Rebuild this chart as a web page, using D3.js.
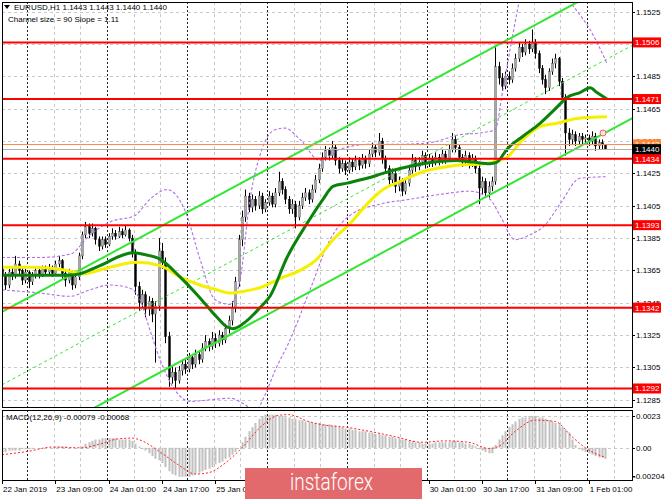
<!DOCTYPE html>
<html><head><meta charset="utf-8">
<script src="https://cdn.jsdelivr.net/npm/d3@7"></script>
<style>
body{margin:0;background:#fff}
svg{display:block}
text{font-family:"Liberation Sans",Arial,sans-serif;font-size:8px;fill:#000}
</style>
</head><body>
<svg id="c" width="665" height="499"></svg>
<script>
// ---------- DATA ----------
const opens = [
1.1366,1.1362,1.1356,1.1364,1.1362,1.1369,1.1365,1.1359,1.1364,1.1358,
1.1362,1.1365,1.1362,1.1366,1.1364,1.1367,1.1363,1.1369,1.1371,1.1363,
1.1359,1.1364,1.1356,1.1361,1.1374,1.1387,1.1392,1.1388,1.1391,1.1384,
1.1380,1.1384,1.1381,1.1386,1.1388,1.1386,1.1389,1.1387,1.1390,1.1385,
1.1376,1.1355,1.1345,1.1350,1.1341,1.1346,1.1338,1.1343,1.1377,1.1370,
1.1324,1.1299,1.1302,1.1297,1.1303,1.1307,1.1304,1.1311,1.1307,1.1313,
1.1310,1.1317,1.1321,1.1318,1.1323,1.1320,1.1325,1.1322,1.1329,1.1334,
1.1342,1.1358,1.1384,1.1398,1.1411,1.1404,1.1409,1.1405,1.1411,1.1403,
1.1407,1.1411,1.1406,1.1413,1.1420,1.1415,1.1409,1.1403,1.1406,1.1398,
1.1405,1.1410,1.1413,1.1409,1.1415,1.1421,1.1428,1.1435,1.1439,1.1436,
1.1441,1.1433,1.1428,1.1431,1.1427,1.1432,1.1429,1.1433,1.1430,1.1434,
1.1431,1.1437,1.1441,1.1438,1.1445,1.1434,1.1428,1.1421,1.1425,1.1417,
1.1420,1.1414,1.1419,1.1427,1.1433,1.1429,1.1432,1.1436,1.1431,1.1434,
1.1432,1.1435,1.1433,1.1437,1.1434,1.1440,1.1446,1.1441,1.1435,1.1432,
1.1436,1.1431,1.1434,1.1428,1.1416,1.1420,1.1413,1.1417,1.1420,1.1491,
1.1484,1.1479,1.1485,1.1483,1.1490,1.1496,1.1503,1.1500,1.1505,1.1502,
1.1506,1.1499,1.1490,1.1483,1.1478,1.1488,1.1493,1.1496,1.1482,1.1472,
1.1450,1.1446,1.1449,1.1445,1.1448,1.1446,1.1447,1.1445,1.1448,1.1442,
1.1444,1.1443];
const highs = [
1.1368,1.1364,1.1366,1.1367,1.1374,1.1371,1.1367,1.1366,1.1365,1.1364,
1.1367,1.1367,1.1368,1.1368,1.1369,1.1368,1.1371,1.1374,1.1372,1.1365,
1.1366,1.1365,1.1363,1.1376,1.1389,1.1395,1.1394,1.1394,1.1392,1.1386,
1.1386,1.1386,1.1388,1.1391,1.1390,1.1392,1.1391,1.1393,1.1391,1.1387,
1.1378,1.1358,1.1353,1.1352,1.1349,1.1348,1.1346,1.1385,1.1382,1.1373,
1.1327,1.1306,1.1305,1.1306,1.1310,1.1310,1.1314,1.1313,1.1316,1.1315,
1.1320,1.1325,1.1323,1.1327,1.1326,1.1328,1.1327,1.1332,1.1337,1.1346,
1.1361,1.1387,1.1402,1.1415,1.1413,1.1412,1.1411,1.1414,1.1413,1.1409,
1.1414,1.1413,1.1416,1.1426,1.1422,1.1417,1.1411,1.1409,1.1408,1.1408,
1.1413,1.1416,1.1415,1.1418,1.1424,1.1431,1.1438,1.1442,1.1441,1.1445,
1.1443,1.1435,1.1434,1.1433,1.1435,1.1434,1.1436,1.1435,1.1437,1.1436,
1.1440,1.1444,1.1443,1.1450,1.1447,1.1436,1.1430,1.1428,1.1427,1.1423,
1.1422,1.1422,1.1430,1.1437,1.1435,1.1435,1.1439,1.1438,1.1437,1.1436,
1.1438,1.1437,1.1440,1.1439,1.1443,1.1450,1.1448,1.1443,1.1437,1.1439,
1.1438,1.1437,1.1436,1.1430,1.1423,1.1422,1.1420,1.1423,1.1503,1.1494,
1.1487,1.1488,1.1488,1.1493,1.1499,1.1506,1.1505,1.1508,1.1507,1.1514,
1.1508,1.1501,1.1492,1.1486,1.1490,1.1496,1.1499,1.1497,1.1484,1.1474,
1.1453,1.1452,1.1451,1.1450,1.1450,1.1449,1.1449,1.1451,1.1450,1.1446,
1.1446,1.1443];
const lows = [
1.1358,1.1353,1.1354,1.1359,1.1360,1.1362,1.1356,1.1357,1.1354,1.1356,
1.1360,1.1360,1.1361,1.1362,1.1362,1.1361,1.1362,1.1367,1.1360,1.1355,
1.1357,1.1353,1.1354,1.1359,1.1372,1.1385,1.1385,1.1386,1.1381,1.1377,
1.1378,1.1379,1.1380,1.1384,1.1384,1.1385,1.1385,1.1386,1.1383,1.1373,
1.1350,1.1340,1.1342,1.1336,1.1337,1.1333,1.1308,1.1340,1.1366,1.1320,
1.1293,1.1295,1.1292,1.1295,1.1300,1.1301,1.1302,1.1304,1.1305,1.1307,
1.1308,1.1315,1.1315,1.1316,1.1317,1.1318,1.1319,1.1320,1.1326,1.1331,
1.1339,1.1355,1.1380,1.1395,1.1401,1.1401,1.1402,1.1403,1.1400,1.1401,
1.1405,1.1404,1.1404,1.1411,1.1412,1.1406,1.1400,1.1400,1.1391,1.1396,
1.1403,1.1408,1.1406,1.1407,1.1413,1.1419,1.1426,1.1433,1.1433,1.1434,
1.1430,1.1425,1.1426,1.1424,1.1425,1.1426,1.1427,1.1427,1.1428,1.1428,
1.1429,1.1435,1.1435,1.1436,1.1431,1.1425,1.1418,1.1419,1.1413,1.1414,
1.1411,1.1412,1.1417,1.1425,1.1426,1.1427,1.1430,1.1428,1.1429,1.1429,
1.1430,1.1430,1.1431,1.1431,1.1432,1.1438,1.1438,1.1432,1.1429,1.1430,
1.1428,1.1429,1.1425,1.1406,1.1412,1.1410,1.1410,1.1414,1.1418,1.1480,
1.1476,1.1477,1.1480,1.1481,1.1488,1.1494,1.1497,1.1498,1.1499,1.1500,
1.1496,1.1487,1.1480,1.1474,1.1476,1.1486,1.1490,1.1479,1.1469,1.1436,
1.1442,1.1443,1.1442,1.1443,1.1443,1.1443,1.1442,1.1443,1.1439,1.1440,
1.1440,1.1440];
const closes = [
1.1362,1.1356,1.1364,1.1362,1.1369,1.1365,1.1359,1.1364,1.1358,1.1362,
1.1365,1.1362,1.1366,1.1364,1.1367,1.1363,1.1369,1.1371,1.1363,1.1359,
1.1364,1.1356,1.1361,1.1374,1.1387,1.1392,1.1388,1.1391,1.1384,1.1380,
1.1384,1.1381,1.1386,1.1388,1.1386,1.1389,1.1387,1.1390,1.1385,1.1376,
1.1355,1.1345,1.1350,1.1341,1.1346,1.1338,1.1343,1.1377,1.1370,1.1324,
1.1299,1.1302,1.1297,1.1303,1.1307,1.1304,1.1311,1.1307,1.1313,1.1310,
1.1317,1.1321,1.1318,1.1323,1.1320,1.1325,1.1322,1.1329,1.1334,1.1342,
1.1358,1.1384,1.1398,1.1411,1.1404,1.1409,1.1405,1.1411,1.1403,1.1407,
1.1411,1.1406,1.1413,1.1420,1.1415,1.1409,1.1403,1.1406,1.1398,1.1405,
1.1410,1.1413,1.1409,1.1415,1.1421,1.1428,1.1435,1.1439,1.1436,1.1441,
1.1433,1.1428,1.1431,1.1427,1.1432,1.1429,1.1433,1.1430,1.1434,1.1431,
1.1437,1.1441,1.1438,1.1445,1.1434,1.1428,1.1421,1.1425,1.1417,1.1420,
1.1414,1.1419,1.1427,1.1433,1.1429,1.1432,1.1436,1.1431,1.1434,1.1432,
1.1435,1.1433,1.1437,1.1434,1.1440,1.1446,1.1441,1.1435,1.1432,1.1436,
1.1431,1.1434,1.1428,1.1416,1.1420,1.1413,1.1417,1.1420,1.1491,1.1484,
1.1479,1.1485,1.1483,1.1490,1.1496,1.1503,1.1500,1.1505,1.1502,1.1506,
1.1499,1.1490,1.1483,1.1478,1.1488,1.1493,1.1496,1.1482,1.1472,1.1450,
1.1446,1.1449,1.1445,1.1448,1.1446,1.1447,1.1445,1.1448,1.1442,1.1444,
1.1443,1.1440];

// moving averages: [bar, price]
const maGreen = [[0,1.1362],[9,1.1362],[19.5,1.1362],[23.4,1.1363],[29.4,1.1368],[39.3,1.1376],[42.3,1.1375],[47.4,1.1372],
 [53.4,1.1361],[59.4,1.1348],[64.5,1.1336],[67.5,1.1330],[69.3,1.1329],[73.5,1.1334],[77.4,1.1342],[80.4,1.1349],
 [85.5,1.1373],[91.5,1.1394],[96.3,1.1409],[99.3,1.1417],[103.5,1.1419],[109.5,1.1422],[114.3,1.1425],[119.4,1.1428],
 [126.3,1.1431],[136.5,1.1433],[141.3,1.1432],[146.4,1.1431],[148.5,1.1432],[151.5,1.1440],[156.3,1.1448],[161.4,1.1456],
 [166.5,1.1466],[169.5,1.1472],[173.4,1.1475],[176.4,1.1478],[178.5,1.1475],[181.5,1.1471]];
const maYellow = [[0,1.1367],[9,1.1367],[19.5,1.1365],[24.3,1.1363],[32.4,1.1367],[40.5,1.1370],[47.4,1.1368],[53.4,1.1361],
 [59.4,1.1356],[64.5,1.1353],[68.4,1.1351],[72.3,1.1352],[78.3,1.1355],[83.4,1.1360],[89.4,1.1365],[94.5,1.1372],
 [99.3,1.1384],[104.4,1.1394],[109.5,1.1406],[114.3,1.1415],[119.4,1.1420],[126.3,1.1426],[136.5,1.1430],[144.3,1.1431],
 [147.3,1.1432],[151.5,1.1435],[156.3,1.1446],[161.4,1.1454],[166.5,1.1456],[172.5,1.1459],[181.5,1.1460]];
const bandUpper = [[0,1.1373],[11.4,1.1373],[20.4,1.1375],[26.4,1.1387],[32.4,1.1395],[39.9,1.1399],[44.4,1.1409],[49.5,1.1415],
 [54.9,1.1402],[59.4,1.1372],[63.9,1.1347],[68.4,1.1344],[71.4,1.1359],[74.4,1.1409],[78,1.1440],[81.9,1.1452],[84.9,1.1453],
 [89.4,1.1446],[95.4,1.1433],[101.4,1.1440],[110.4,1.1443],[119.4,1.1443],[128.4,1.1444],[137.4,1.1449],[143.4,1.1450],
 [147.9,1.1452],[150.3,1.1477],[153,1.1508],[156,1.1536],[161.4,1.1545],[167.4,1.1538],[171.9,1.1527],[176.4,1.1514],[181.5,1.1493]];
const bandLower = [[0,1.1353],[11.4,1.1351],[20.4,1.1349],[26.4,1.1353],[32.4,1.1356],[38.4,1.1354],[41.4,1.1347],[44.4,1.1328],
 [47.4,1.1310],[51.9,1.1291],[56.4,1.1284],[62.4,1.1285],[68.4,1.1286],[72.9,1.1282],[75.9,1.1278],[78.9,1.1288],[81.9,1.1303],
 [86.4,1.1322],[92.4,1.1353],[98.4,1.1384],[104.4,1.1399],[113.4,1.1406],[122.4,1.1409],[131.4,1.1412],[140.4,1.1414],
 [146.4,1.1409],[149.4,1.1399],[153.9,1.1384],[158.4,1.1387],[162.9,1.1393],[167.4,1.1406],[173.4,1.1422],[181.5,1.1423]];

// MACD (x 1e-4) per bar and signal line [bar, value x 1e-4]
const macdHist = [
-3,-3,-2,-2,-2,-2,-1,-1,-1,-1,
0,0,0,0,0,0,1,1,1,1,
0,0,0,0,1,3,4,5,6,6,
7,7,7,7,7,6,6,6,6,5,
3,1,-1,-2,-4,-6,-8,-9,-11,-14,
-17,-19,-20,-21,-21,-21,-21,-20,-19,-18,
-17,-16,-15,-14,-12,-11,-10,-8,-7,-5,
-3,0,4,8,12,15,18,21,23,24,
24,24,24,23,23,22,22,21,21,20,
20,19,19,18,18,18,17,17,17,16,
16,15,15,14,14,13,13,12,12,12,
11,11,10,10,9,9,8,8,7,7,
6,6,5,5,4,4,3,3,3,3,
4,4,4,4,4,5,5,4,4,3,
3,2,1,-1,-2,-3,-4,-4,2,6,
9,12,15,17,19,21,22,22,23,23,
23,22,22,21,20,19,18,17,15,13,
11,6,2,-1,-2,-3,-4,-5,-6,-7,
-7,-8];
const macdSignal = [[0,-5],[8,-2.5],[15,0.5],[24,0],[29,2.5],[35,6.5],[39,7],[42,5],[48,-4],[53,-12.5],[58,-19],[62,-18],
 [67,-11],[72,0],[78,16],[83,23.5],[86,24],[92,19],[98,16],[101,15.5],[110,12],[118,8],[126,4],[133,5],[140,4],
 [146,-0.5],[149,1],[154,12],[160,20],[166,19],[171,8],[175,0],[181,-7]];

// visible price-axis labels (1.1505 is hidden under the 1.1506 box in the reference)
const priceTicks = [1.1525,1.1505,1.1485,1.1465,1.1445,1.1425,1.1405,1.1385,1.1365,1.1345,1.1325,1.1305,1.1285];
const priceTickLabels = ["1.1525","","1.1485","1.1465","1.1445","1.1425","1.1405","1.1385","1.1365","1.1345","1.1325","1.1305","1.1285"];
const levels = [1.1506,1.1471,1.1434,1.1393,1.1342,1.1292];
const askPrice = 1.1443, bidPrice = 1.1440;
const timeBars = [0,16,32,48,64,80,96,112,128,144,160,176];
// labels under the instaforex badge are not visible in the reference
const timeLabels = ["22 Jan 2019","23 Jan 09:00","24 Jan 01:00","24 Jan 17:00","25 Jan 0","","","","30 Jan 01:00","30 Jan 17:00","31 Jan 09:00","1 Feb 01:00"];
const channel = {startBar:0, upperStart:1.13393, slopePips:1.11, sizePips:90};
const macdTicks = [0.0023, 0.0, -0.00204];
const macdTickLabels = ["0.0023","0.00","-0.00204"];

// ---------- LAYOUT ----------
const svg = d3.select("#c");
const L=2, R=632, T=2, B=407, mT=410, mB=480;
const nVis = 189.3;
const x = d3.scaleLinear().domain([0,nVis]).range([2,633]);
const y = d3.scaleLinear().domain([1.1525,1.1285]).range([11.7,399.8]);
const ym = d3.scaleLinear().domain([0.0023,-0.00204]).range([416,476]);

const defs = svg.append("defs");
defs.append("clipPath").attr("id","cm").append("rect").attr("x",L).attr("y",T).attr("width",R-L).attr("height",B-T);
defs.append("clipPath").attr("id","cd").append("rect").attr("x",L).attr("y",mT).attr("width",R-L).attr("height",mB-mT);

const gm = svg.append("g").attr("clip-path","url(#cm)");
const gd = svg.append("g").attr("clip-path","url(#cd)");

// grid horizontal
gm.selectAll(".hg").data(priceTicks).join("line")
  .attr("x1",L).attr("x2",R).attr("y1",d=>Math.round(y(d))+0.5).attr("y2",d=>Math.round(y(d))+0.5)
  .attr("stroke","#c8c8c8").attr("stroke-dasharray","3,3");
gd.selectAll(".hg").data([0.0023,0]).join("line")
  .attr("x1",L).attr("x2",R).attr("y1",d=>Math.round(ym(d))+0.5).attr("y2",d=>Math.round(ym(d))+0.5)
  .attr("stroke","#c8c8c8").attr("stroke-dasharray","3,3");
// grid vertical
const vgrid = d3.range(0,24).map(k=>({b:7.5+8*k, dark:k%3===0}));
[gm,gd].forEach((g,gi)=>{
  g.selectAll(".vg").data(vgrid).join("line")
    .attr("x1",d=>Math.round(x(d.b))+0.5).attr("x2",d=>Math.round(x(d.b))+0.5)
    .attr("y1",gi?mT:T).attr("y2",gi?mB:B)
    .attr("stroke",d=>d.dark?"#202020":"#c8c8c8")
    .attr("stroke-dasharray",d=>d.dark?"2,2":"3,3");
});

// candles
const bars = closes.map((c,i)=>({i,o:opens[i],h:highs[i],l:lows[i],c}));
gm.selectAll(".wick").data(bars).join("line")
  .attr("x1",d=>Math.round(x(d.i))+0.5).attr("x2",d=>Math.round(x(d.i))+0.5)
  .attr("y1",d=>y(d.h)).attr("y2",d=>y(d.l)).attr("stroke","#000").attr("stroke-width",1);
gm.selectAll(".body").data(bars).join("rect")
  .attr("x",d=>Math.round(x(d.i))-0.5).attr("width",2)
  .attr("y",d=>Math.min(y(d.o),y(d.c)))
  .attr("height",d=>Math.max(1,Math.abs(y(d.o)-y(d.c))))
  .attr("fill",d=>d.c>=d.o?"#a8a8a8":"#000")
  .attr("stroke",d=>d.c>=d.o?"#555":"#000").attr("stroke-width",0.4);

// bands
const lineP = d3.line().x(d=>x(d[0])).y(d=>y(d[1])).curve(d3.curveMonotoneX);
[bandUpper,bandLower].forEach(bd=>{
  gm.append("path").attr("d",lineP(bd)).attr("fill","none").attr("stroke","#b06ee6")
    .attr("stroke-width",1.1).attr("stroke-dasharray","3,2");
});

// regression channel
const chv = (b,off)=>channel.upperStart + (b-channel.startBar)*channel.slopePips*0.0001 - off*0.0001;
[[0,"none",2],[channel.sizePips,"none",2],[channel.sizePips/2,"3,3",1]].forEach(([off,dash,w])=>{
  gm.append("line").attr("x1",x(channel.startBar)).attr("x2",x(nVis))
    .attr("y1",y(chv(channel.startBar,off))).attr("y2",y(chv(nVis,off)))
    .attr("stroke","#33e633").attr("stroke-width",w).attr("stroke-dasharray",dash);
});

// moving averages
gm.append("path").attr("d",lineP(maYellow)).attr("fill","none").attr("stroke","#f5f000").attr("stroke-width",3);
gm.append("path").attr("d",lineP(maGreen)).attr("fill","none").attr("stroke","#0b820b").attr("stroke-width",3);

// horizontal levels
gm.selectAll(".lvl").data(levels).join("line")
  .attr("x1",L).attr("x2",R).attr("y1",d=>y(d)).attr("y2",d=>y(d))
  .attr("stroke","#ff0000").attr("stroke-width",2);
gm.append("line").attr("x1",L).attr("x2",R).attr("y1",Math.round(y(askPrice))+0.5).attr("y2",Math.round(y(askPrice))+0.5)
  .attr("stroke","#ff8a50").attr("stroke-width",1);
gm.append("line").attr("x1",L).attr("x2",R).attr("y1",Math.round(y(bidPrice))+0.5).attr("y2",Math.round(y(bidPrice))+0.5)
  .attr("stroke","#b0b0b0").attr("stroke-width",1);

// alert marker
gm.append("circle").attr("cx",x(180.3)).attr("cy",y(1.1450)).attr("r",3)
  .attr("fill","#ffe0e0").attr("stroke","#f06060").attr("stroke-width",1);

// MACD
gd.selectAll(".mh").data(macdHist).join("rect")
  .attr("x",(d,i)=>Math.round(x(i))-0.5).attr("width",2)
  .attr("y",d=>Math.min(ym(d*1e-4),ym(0))).attr("height",d=>Math.abs(ym(d*1e-4)-ym(0)))
  .attr("fill","#c0c0c0");
gd.append("path").attr("d",d3.line().x(d=>x(d[0])).y(d=>ym(d[1]*1e-4)).curve(d3.curveMonotoneX)(macdSignal))
  .attr("fill","none").attr("stroke","#ff2020").attr("stroke-width",1).attr("stroke-dasharray","2,2");

// frames
svg.append("rect").attr("x",L+0.5).attr("y",T+0.5).attr("width",R-L).attr("height",B-T)
  .attr("fill","none").attr("stroke","#000");
svg.append("rect").attr("x",L+0.5).attr("y",mT+0.5).attr("width",R-L).attr("height",mB-mT)
  .attr("fill","none").attr("stroke","#000");

// price axis
svg.selectAll(".pt").data(priceTicks).join("line")
  .attr("x1",R).attr("x2",R+3).attr("y1",d=>Math.round(y(d))+0.5).attr("y2",d=>Math.round(y(d))+0.5).attr("stroke","#000");
svg.selectAll(".ptl").data(priceTicks.filter((d,i)=>priceTickLabels[i])).join("text")
  .attr("x",636).attr("y",d=>y(d)+3).text(d=>priceTickLabels[priceTicks.indexOf(d)]);
svg.selectAll(".mt").data(macdTicks).join("line")
  .attr("x1",R).attr("x2",R+3).attr("y1",d=>Math.round(ym(d))+0.5).attr("y2",d=>Math.round(ym(d))+0.5).attr("stroke","#000");
svg.selectAll(".mtl").data(macdTicks).join("text")
  .attr("x",(d,i)=>i===2?633:636).attr("y",d=>ym(d)+3).text((d,i)=>macdTickLabels[i]);

// price boxes
function box(p,fill,tcol){
  const yy=y(p);
  svg.append("rect").attr("x",633).attr("y",yy-5).attr("width",28).attr("height",10).attr("fill",fill);
  svg.append("text").attr("x",635).attr("y",yy+3).style("fill",tcol).text(p.toFixed(4));
}
levels.forEach(p=>box(p,"#ff0000","#fff"));
box(askPrice,"#ff8a3c","#fff");
box(bidPrice,"#000","#fff");

// time axis
svg.selectAll(".tt").data(timeBars).join("line")
  .attr("x1",d=>Math.round(x(d))+0.5).attr("x2",d=>Math.round(x(d))+0.5).attr("y1",mB).attr("y2",mB+4).attr("stroke","#000");
svg.selectAll(".ttl").data(timeBars.filter((d,i)=>timeLabels[i])).join("text")
  .attr("x",d=>x(d)+1).attr("y",492).text(d=>timeLabels[timeBars.indexOf(d)]);

// titles
svg.append("path").attr("d","M4,5 L10,5 L7,9 Z").attr("fill","#000");
svg.append("text").attr("x",14).attr("y",10).text("EURUSD,H1  1.1443 1.1443 1.1440 1.1440");
svg.append("text").attr("x",8).attr("y",22).text("Channel size = 90 Slope = 1.11");
svg.append("text").attr("x",6).attr("y",420).text("MACD(12,26,9) -0.00079 -0.00068");

// logo
svg.append("rect").attr("x",245).attr("y",468).attr("width",177).attr("height",31).attr("fill","#e36a6c");
svg.append("text").attr("x",290).attr("y",490).attr("textLength",83).attr("lengthAdjust","spacingAndGlyphs")
  .style("font-family","Roboto, 'Open Sans', sans-serif").style("font-size","24px").style("font-weight","300")
  .style("fill","#fff").text("instaforex");
</script>
</body></html>
